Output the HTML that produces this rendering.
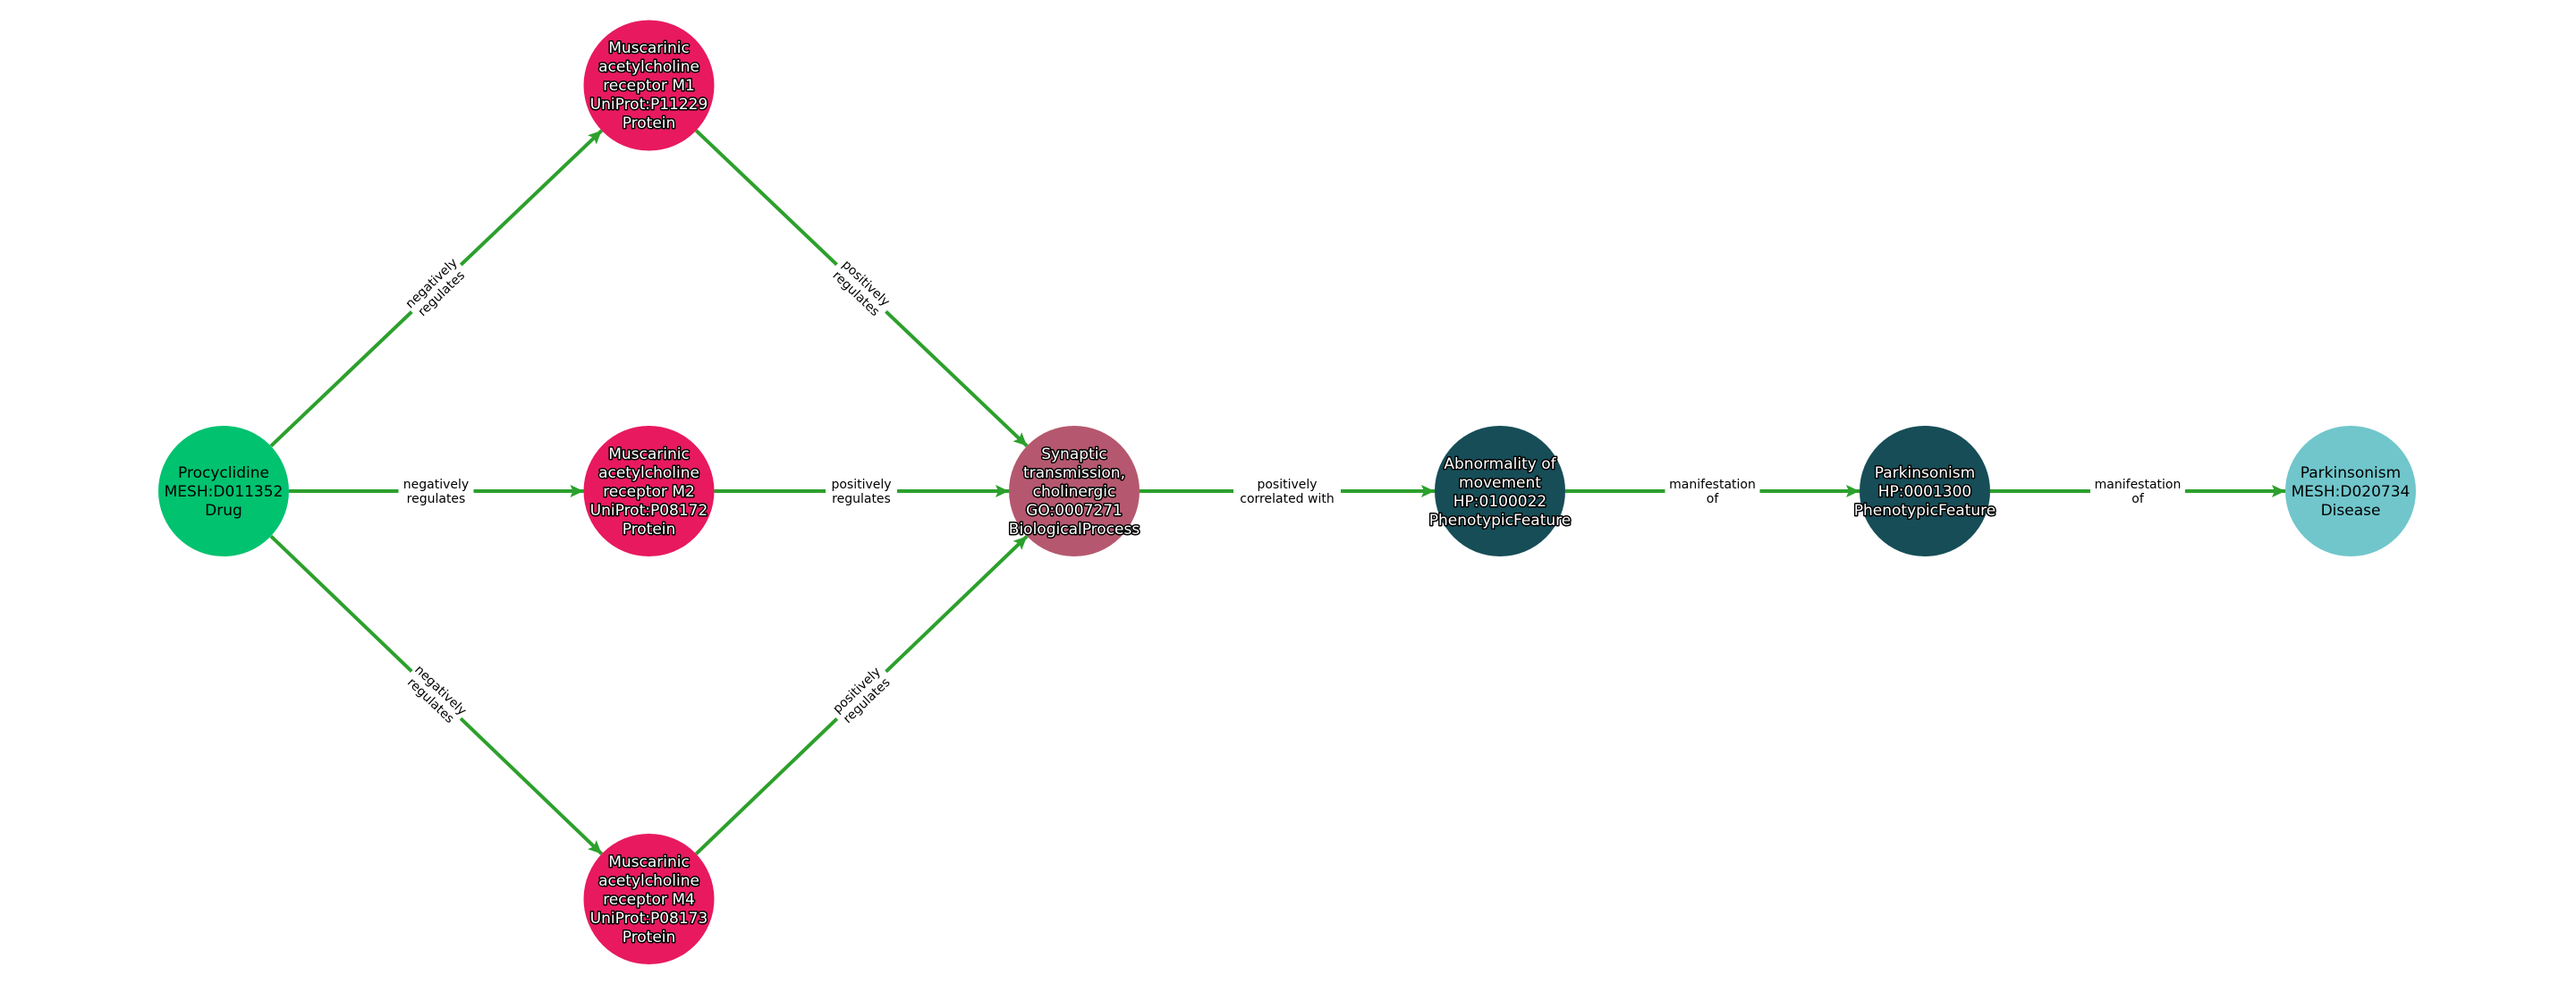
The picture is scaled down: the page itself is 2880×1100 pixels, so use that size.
<!DOCTYPE html>
<html><head><meta charset="utf-8"><style>
html,body{margin:0;padding:0;background:#fff;}
svg{display:block;}
.nl{font-family:"DejaVu Sans","Liberation Sans",sans-serif;font-size:17px;text-anchor:middle;}
.w{fill:#fff;stroke:#000;stroke-width:3px;paint-order:stroke;stroke-linejoin:round;}
.b{fill:#000;}
.el{font-family:"DejaVu Sans","Liberation Sans",sans-serif;font-size:14px;text-anchor:middle;fill:#000;}
.e{stroke:#2ca02c;stroke-width:4;fill:none;}
</style></head><body>
<svg width="2880" height="1100" viewBox="0 0 2880 1100" xmlns="http://www.w3.org/2000/svg">
<defs>
<marker id="a" markerUnits="userSpaceOnUse" markerWidth="16" markerHeight="14" refX="15" refY="7" orient="auto">
<path d="M0,0 L15,7 L0,14 L3,7 Z" fill="#2ca02c"/>
</marker>
</defs>
<line class="e" x1="303" y1="498.6" x2="672.7" y2="145.9" marker-end="url(#a)"/>
<line class="e" x1="323" y1="549" x2="652.5" y2="549" marker-end="url(#a)"/>
<line class="e" x1="303" y1="599.4" x2="672.7" y2="954.6" marker-end="url(#a)"/>
<line class="e" x1="778.3" y1="145.9" x2="1148.2" y2="498.6" marker-end="url(#a)"/>
<line class="e" x1="798.5" y1="549" x2="1128" y2="549" marker-end="url(#a)"/>
<line class="e" x1="778.3" y1="954.6" x2="1148.2" y2="599.4" marker-end="url(#a)"/>
<line class="e" x1="1274" y1="549" x2="1604" y2="549" marker-end="url(#a)"/>
<line class="e" x1="1750" y1="549" x2="2079" y2="549" marker-end="url(#a)"/>
<line class="e" x1="2225" y1="549" x2="2555" y2="549" marker-end="url(#a)"/>
<g transform="translate(487.5,322) rotate(-43.7)"><rect x="-38" y="-18" width="76" height="36" fill="#fff"/><text class="el" y="-3">negatively</text><text class="el" y="13">regulates</text></g>
<g transform="translate(963,322) rotate(43.7)"><rect x="-38" y="-18" width="76" height="36" fill="#fff"/><text class="el" y="-3">positively</text><text class="el" y="13">regulates</text></g>
<g transform="translate(487.5,777) rotate(43.7)"><rect x="-38" y="-18" width="76" height="36" fill="#fff"/><text class="el" y="-3">negatively</text><text class="el" y="13">regulates</text></g>
<g transform="translate(963,777) rotate(-43.7)"><rect x="-38" y="-18" width="76" height="36" fill="#fff"/><text class="el" y="-3">positively</text><text class="el" y="13">regulates</text></g>
<g transform="translate(487.5,549)"><rect x="-42" y="-18" width="84" height="36" fill="#fff"/><text class="el" y="-3">negatively</text><text class="el" y="13">regulates</text></g>
<g transform="translate(963,549)"><rect x="-40" y="-18" width="80" height="36" fill="#fff"/><text class="el" y="-3">positively</text><text class="el" y="13">regulates</text></g>
<g transform="translate(1439,549)"><rect x="-60" y="-18" width="120" height="36" fill="#fff"/><text class="el" y="-3">positively</text><text class="el" y="13">correlated with</text></g>
<g transform="translate(1914.5,549)"><rect x="-53" y="-18" width="106" height="36" fill="#fff"/><text class="el" y="-3">manifestation</text><text class="el" y="13">of</text></g>
<g transform="translate(2390,549)"><rect x="-53" y="-18" width="106" height="36" fill="#fff"/><text class="el" y="-3">manifestation</text><text class="el" y="13">of</text></g>
<circle cx="250" cy="549" r="73" fill="#00c26f"/>
<g class="nl b"><text x="250" y="534">Procyclidine</text><text x="250" y="555">MESH:D011352</text><text x="250" y="576">Drug</text></g>
<circle cx="725.5" cy="95.5" r="73" fill="#e8195f"/>
<g class="nl w"><text x="725.5" y="59">Muscarinic</text><text x="725.5" y="80">acetylcholine</text><text x="725.5" y="101">receptor M1</text><text x="725.5" y="122">UniProt:P11229</text><text x="725.5" y="143">Protein</text></g>
<circle cx="725.5" cy="549" r="73" fill="#e8195f"/>
<g class="nl w"><text x="725.5" y="513">Muscarinic</text><text x="725.5" y="534">acetylcholine</text><text x="725.5" y="555">receptor M2</text><text x="725.5" y="576">UniProt:P08172</text><text x="725.5" y="597">Protein</text></g>
<circle cx="725.5" cy="1005" r="73" fill="#e8195f"/>
<g class="nl w"><text x="725.5" y="969">Muscarinic</text><text x="725.5" y="990">acetylcholine</text><text x="725.5" y="1011">receptor M4</text><text x="725.5" y="1032">UniProt:P08173</text><text x="725.5" y="1053">Protein</text></g>
<circle cx="1201" cy="549" r="73" fill="#b5586f"/>
<g class="nl w"><text x="1201" y="513">Synaptic</text><text x="1201" y="534">transmission,</text><text x="1201" y="555">cholinergic</text><text x="1201" y="576">GO:0007271</text><text x="1201" y="597">BiologicalProcess</text></g>
<circle cx="1677" cy="549" r="73" fill="#164d57"/>
<g class="nl w"><text x="1677" y="524">Abnormality of</text><text x="1677" y="545">movement</text><text x="1677" y="566">HP:0100022</text><text x="1677" y="587">PhenotypicFeature</text></g>
<circle cx="2152" cy="549" r="73" fill="#164d57"/>
<g class="nl w"><text x="2152" y="534">Parkinsonism</text><text x="2152" y="555">HP:0001300</text><text x="2152" y="576">PhenotypicFeature</text></g>
<circle cx="2628" cy="549" r="73" fill="#70c6cb"/>
<g class="nl b"><text x="2628" y="534">Parkinsonism</text><text x="2628" y="555">MESH:D020734</text><text x="2628" y="576">Disease</text></g>
</svg>
</body></html>
